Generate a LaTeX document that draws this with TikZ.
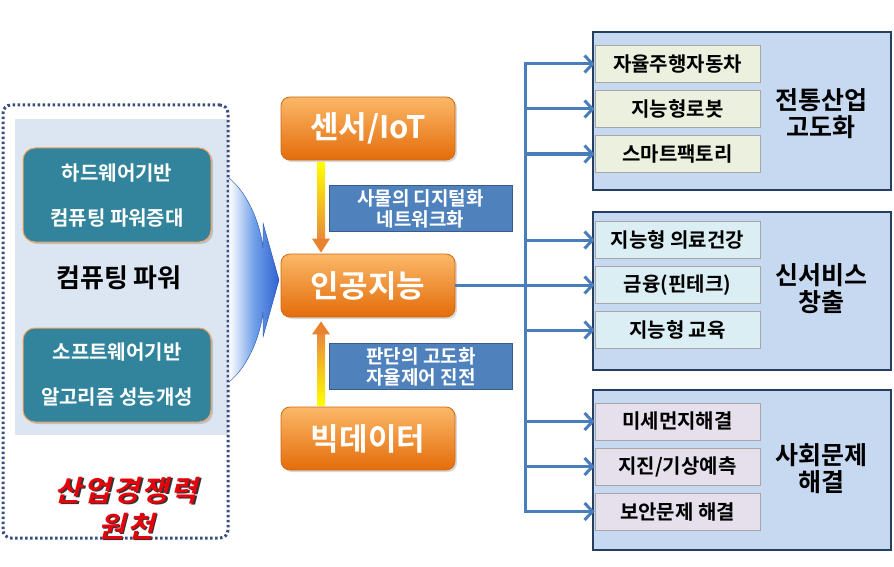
\documentclass[tikz,border=0pt]{standalone}
\usepackage{fontspec}
\setmainfont{Noto Sans CJK KR}[BoldFont={Noto Sans CJK KR Bold}]
\newfontfamily\krslant{Noto Sans CJK KR Bold}[FakeSlant=0.25,LetterSpace=8]
\usetikzlibrary{arrows.meta,calc,shadows}
\definecolor{navydot}{HTML}{3A4D7E}
\definecolor{panel}{HTML}{DCE6F2}
\definecolor{teal}{HTML}{31849B}
\definecolor{tealedge}{HTML}{F5A35A}
\definecolor{orgtop}{HTML}{FBB868}
\definecolor{orgbot}{HTML}{E46C0A}
\definecolor{orgedge}{HTML}{D06A14}
\definecolor{lblblue}{HTML}{4F81BD}
\definecolor{lbledge}{HTML}{385D8A}
\definecolor{conn}{HTML}{4A7EBB}
\definecolor{grpfill}{HTML}{C6D9F1}
\definecolor{grpedge}{HTML}{243F60}
\definecolor{itemA}{HTML}{EBF1DE}
\definecolor{itemB}{HTML}{DBEEF4}
\definecolor{itemC}{HTML}{E5E0EC}
\definecolor{itemedge}{HTML}{A6A6A6}
\definecolor{fun}{HTML}{2F62D2}
\definecolor{funmid}{HTML}{6FA0E8}
\definecolor{redtxt}{HTML}{E8000B}
\begin{document}
\begin{tikzpicture}[x=1pt,y=-1pt,
  tealbox/.style={rounded corners=12pt, fill=teal, draw=tealedge, line width=1pt,
    minimum width=188pt, minimum height=94pt, text=white, align=center,
    font=\fontsize{20}{45}\selectfont\bfseries,
    drop shadow={opacity=0.35, shadow xshift=2pt, shadow yshift=-2pt}},
  obox/.style={rounded corners=9pt, top color=orgtop, bottom color=orgbot, draw=orgedge,
    line width=0.8pt, minimum width=174pt, minimum height=63pt, text=white,
    font=\fontsize{31}{32}\selectfont\bfseries,
    drop shadow={opacity=0.3, shadow xshift=2pt, shadow yshift=-2pt}},
  lbl/.style={fill=lblblue, draw=lbledge, line width=0.8pt, minimum width=183pt,
    minimum height=46pt, text=white, align=center, inner sep=1pt,
    font=\fontsize{19}{21}\selectfont\bfseries},
  grp/.style={fill=grpfill, draw=grpedge, line width=2.2pt, minimum width=298pt},
  item/.style={draw=itemedge, line width=0.8pt, minimum width=165pt, minimum height=37pt,
    font=\fontsize{20}{20}\selectfont\bfseries},
  grplbl/.style={align=center, font=\fontsize{25}{27}\selectfont\bfseries},
  cline/.style={draw=conn, line width=3pt},
  carrow/.style={cline, -{Straight Barb[length=8pt,width=17pt]}},
]
\useasboundingbox (0,0) rectangle (894,567);

% left source panel
\node[fill=panel, minimum width=213pt, minimum height=315pt, inner sep=0pt] (panel) at (121.5,277) {};
\node[draw=navydot, line width=3pt, dash pattern=on 2.5pt off 2.5pt, rounded corners=8pt,
  minimum width=225pt, minimum height=433pt, inner sep=0pt] (frame) at (115.5,321.5) {};
\node[tealbox] (hw) at (117,195) {하드웨어기반\\컴퓨팅 파워증대};
\node[font=\fontsize{26}{28}\selectfont\bfseries] (cp) at (119,278) {컴퓨팅 파워};
\node[tealbox] (sw) at (117,375) {소프트웨어기반\\알고리즘 성능개성};
\node[text=black!80, align=center, font=\krslant\fontsize{29}{36}\selectfont] at (127.5,509.5) {산업경쟁력\\원천};
\node[text=redtxt, align=center, font=\krslant\fontsize{29}{36}\selectfont] (src) at (126,508) {산업경쟁력\\원천};

% funnel arrow
\shade[left color=white, right color=fun, middle color=funmid, draw=fun!80!black, line width=0.4pt]
  (229,178) .. controls (250,195) and (261,228) .. (263,248)
  -- (263,223) -- (279,280) -- (263,337) -- (263,312)
  .. controls (261,332) and (250,365) .. (229,382) -- cycle;

% centre column
\node[obox] (sensor) at (368,128.5) {센서/IoT};
\node[obox] (ai) at (368,285.5) {인공지능};
\node[obox] (bd) at (368,438.5) {빅데이터};
\coordinate (ax) at (321,0);
\coordinate (a1s) at (sensor.south -| ax);
\coordinate (a1e) at (ai.north -| ax);
\coordinate (a2s) at (bd.north -| ax);
\coordinate (a2e) at (ai.south -| ax);
\shade[top color=yellow, bottom color=orgbot!80] ($(a1s)+(-4,2)$) rectangle ($(a1e)+(4,-14)$);
\fill[orgbot!85] ($(a1e)+(-9,-15)$) -- ($(a1e)+(9,-15)$) -- ($(a1e)+(0,-1)$) -- cycle;
\shade[bottom color=yellow, top color=orgbot!80] ($(a2s)+(-4,-1)$) rectangle ($(a2e)+(4,16)$);
\fill[orgbot!85] ($(a2e)+(-9,17)$) -- ($(a2e)+(9,17)$) -- ($(a2e)+(0,4)$) -- cycle;
\node[lbl] (l1) at (420.5,208.5) {사물의 디지털화\\네트워크화};
\node[lbl] (l2) at (421,366.5) {판단의 고도화\\자율제어 진전};

% right groups
\node[grp, minimum height=158pt] (g1) at (742,111) {};
\node[grp, minimum height=158pt] (g2) at (742,291) {};
\node[grp, minimum height=160pt] (g3) at (742,470) {};
\node[item, fill=itemA] (i11) at (677.5,64) {자율주행자동차};
\node[item, fill=itemA] (i12) at (677.5,109) {지능형로봇};
\node[item, fill=itemA] (i13) at (677.5,154) {스마트팩토리};
\node[item, fill=itemB] (i21) at (677.5,240) {지능형 의료건강};
\node[item, fill=itemB] (i22) at (677.5,285) {금융(핀테크)};
\node[item, fill=itemB] (i23) at (677.5,330) {지능형 교육};
\node[item, fill=itemC] (i31) at (677.5,421.5) {미세먼지해결};
\node[item, fill=itemC] (i32) at (677.5,466.5) {지진/기상예측};
\node[item, fill=itemC] (i33) at (677.5,511.5) {보안문제 해결};
\node[grplbl] (t1) at (821,114) {전통산업\\고도화};
\node[grplbl] (t2) at (821,289) {신서비스\\창출};
\node[grplbl] (t3) at (821,469) {사회문제\\해결};

% connectors
\coordinate (tx) at (525,0);
\draw[cline, line cap=rect] (tx |- i11.west) -- (tx |- i33.west);
\draw[cline] (ai.east) -- (tx |- ai.east);
\foreach \n in {i11,i12,i13,i21,i22,i23,i31,i32,i33}
  \draw[carrow] (tx |- \n.west) -- (\n.west);
\end{tikzpicture}
\end{document}
